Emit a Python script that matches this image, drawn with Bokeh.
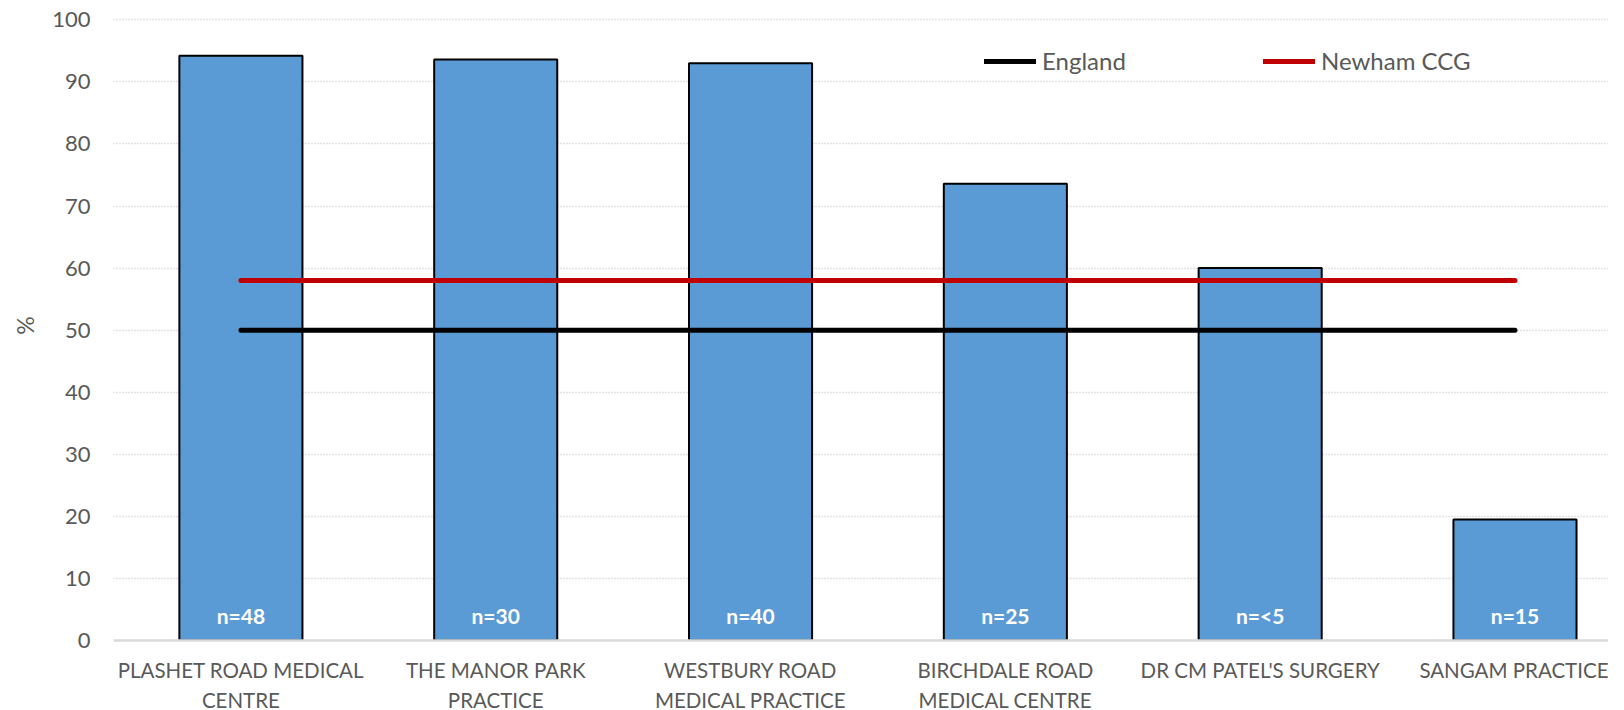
from bokeh.plotting import figure
from bokeh.models import Range1d, FixedTicker, Legend, LegendItem
from bokeh.embed import file_html
from bokeh.resources import INLINE
from bokeh.core.properties import value

# ---- data ----
practices = [
    "PLASHET ROAD MEDICAL\nCENTRE",
    "THE MANOR PARK\nPRACTICE",
    "WESTBURY ROAD\nMEDICAL PRACTICE",
    "BIRCHDALE ROAD\nMEDICAL CENTRE",
    "DR CM PATEL'S SURGERY",
    "SANGAM PRACTICE",
]
percent = [94.2, 93.6, 93.0, 73.6, 60.0, 19.5]
sample_sizes = ["n=48", "n=30", "n=40", "n=25", "n=<5", "n=15"]
england = 50.0
newham_ccg = 58.0
y_ticks = list(range(0, 101, 10))

FONT = "Lato"
GREY = "#595959"

idx = list(range(len(practices)))

p = figure(
    width=1608, height=724,
    x_range=Range1d(-0.5, 5.367), y_range=Range1d(0, 101.5),
    output_backend="svg", toolbar_location=None,
    min_border_left=113, min_border_right=0, min_border_top=10, min_border_bottom=84,
)
p.outline_line_color = None
p.background_fill_color = "white"

# grid
p.xgrid.grid_line_color = None
p.ygrid.ticker = FixedTicker(ticks=y_ticks)
p.ygrid.grid_line_color = "#C8C8C8"
p.ygrid.grid_line_dash = "1 2"
p.ygrid.grid_line_width = 1.3

# y axis
p.yaxis.ticker = FixedTicker(ticks=y_ticks)
p.yaxis.axis_line_color = None
p.yaxis.major_tick_line_color = None
p.yaxis.minor_tick_line_color = None
p.yaxis.major_label_text_font = FONT
p.yaxis.major_label_text_font_size = "22px"
p.yaxis.major_label_text_color = GREY
p.yaxis.major_label_standoff = 17
p.yaxis.axis_label = "%"
p.yaxis.axis_label_text_font = FONT
p.yaxis.axis_label_text_font_size = "23px"
p.yaxis.axis_label_text_font_style = "normal"
p.yaxis.axis_label_text_color = GREY
p.yaxis.axis_label_standoff = 10

# x axis
p.xaxis.ticker = FixedTicker(ticks=idx)
p.xaxis.major_label_overrides = {i: lab for i, lab in zip(idx, practices)}
p.xaxis.axis_line_color = "#D9D9D9"
p.xaxis.axis_line_width = 2.5
p.xaxis.major_tick_line_color = None
p.xaxis.minor_tick_line_color = None
p.xaxis.major_label_text_font = FONT
p.xaxis.major_label_text_font_size = "20.5px"
p.xaxis.major_label_text_color = GREY
p.xaxis.major_label_standoff = 11
p.xaxis.major_label_text_line_height = 1.29

# bars
p.vbar(x=idx, top=percent, width=0.483, bottom=0,
       fill_color="#5B9BD5", line_color="black", line_width=2)

# sample size labels
p.text(x=idx, y=[0] * len(idx), text=sample_sizes, y_offset=-25,
       text_align="center", text_baseline="middle",
       text_color="white", text_font=value(FONT), text_font_style="bold",
       text_font_size="21px")

# reference lines
r_eng = p.line(x=idx, y=[england] * len(idx), line_color="black", line_width=5,
               line_cap="round")
r_new = p.line(x=idx, y=[newham_ccg] * len(idx), line_color="#C00000", line_width=5,
               line_cap="round")

def make_legend(label, renderer, loc):
    lg = Legend(items=[LegendItem(label=label, renderers=[renderer])],
                location=loc, orientation="horizontal",
                padding=0, margin=0, border_line_color=None,
                background_fill_alpha=0, label_standoff=6,
                glyph_width=52, glyph_height=22, label_height=22,
                label_text_font=FONT, label_text_font_size="24px",
                label_text_color=GREY)
    p.add_layout(lg, "center")

make_legend("England", r_eng, (871, 565))
make_legend("Newham CCG", r_new, (1150, 565))

open("out.html", "w").write(file_html(p, INLINE))
